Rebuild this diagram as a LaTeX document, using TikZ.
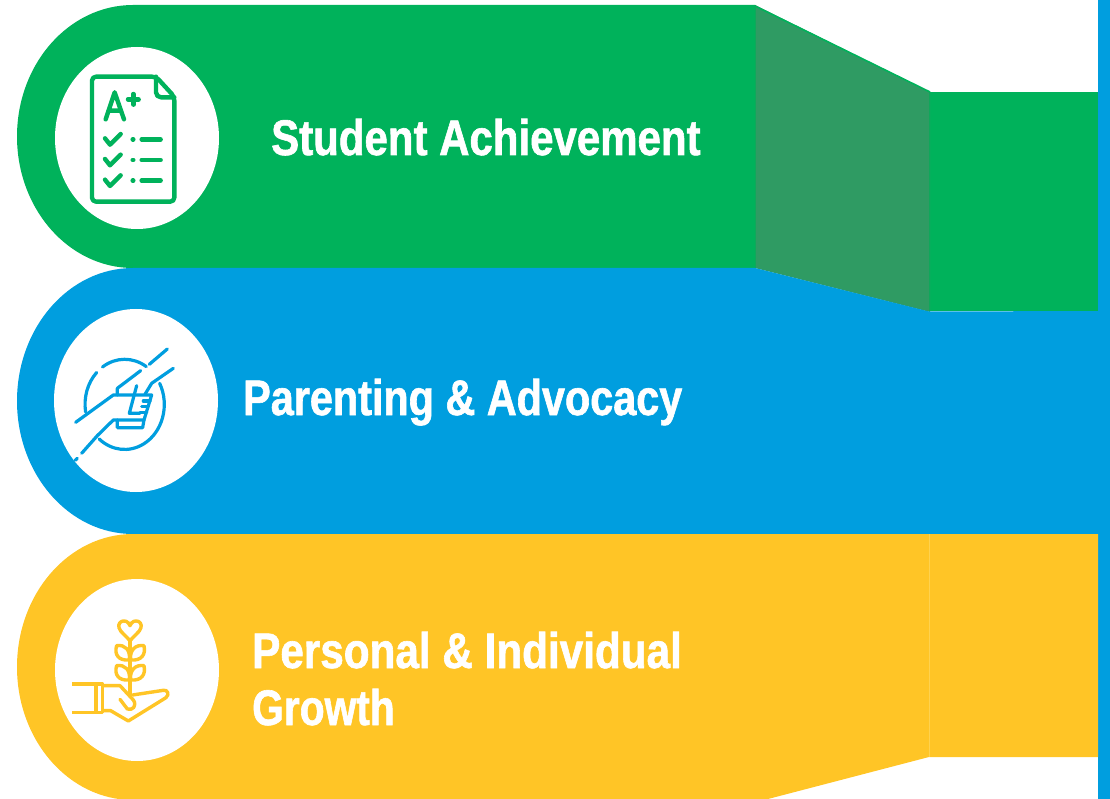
\documentclass[tikz,border=0pt]{standalone}
\usepackage{fontspec}
\usepackage{graphicx}
\newfontfamily\labelfont[FakeStretch=0.84,FakeBold=1.2]{Liberation Sans Bold}
\definecolor{bandgreen}{HTML}{00B25B}
\definecolor{seamgreen}{HTML}{0FA85A}
\definecolor{trapgreen}{HTML}{2F9B63}
\definecolor{bandblue}{HTML}{009EDF}
\definecolor{bandyellow}{HTML}{FFC526}
\definecolor{seamyellow}{HTML}{FFD24F}
\tikzset{
  disc/.style={fill=white},
  bandlabel/.style={anchor=base west,inner sep=0pt,text=white,font=\labelfont\fontsize{50}{50}\selectfont},
  iconA/.style={draw=bandgreen,line width=4.4pt,line cap=round,line join=round},
  iconB/.style={draw=bandblue,line width=3.2pt,line cap=round,line join=round},
  iconC/.style={draw=bandyellow,line width=3.4pt,line cap=round,line join=round},
}
\begin{document}
\begin{tikzpicture}[x=1pt,y=-1pt]
\useasboundingbox (0,0) rectangle (1110,799);
% bands
\fill[bandgreen] (133,5) arc[start angle=90,end angle=270,x radius=116pt,y radius=131.5pt] -- (755,268) -- (755,5) -- cycle;
\fill[bandgreen] (929,92) rectangle (1098,311);
\fill[trapgreen] (755,5) -- (930,92) -- (930,312) -- (755,268) -- cycle;
\draw[bandgreen,line width=1.6pt] (755,6) -- (930,92);
\draw[seamgreen,line width=1pt] (755,5) -- (755,268) (929,92) -- (929,311);
\fill[bandblue] (133,268) arc[start angle=90,end angle=270,x radius=116pt,y radius=133pt] -- (1098,534) -- (1098,311) -- (929,311.5) -- (755,268) -- cycle;
\fill[bandblue] (1098,0) rectangle (1110,799);
\fill[bandyellow] (133,534) arc[start angle=90,end angle=270,x radius=116pt,y radius=133pt] -- (768,799) -- (929,757) -- (1098,757) -- (1098,534) -- cycle;
\draw[seamyellow,line width=0.7pt] (929,534) -- (929,757);
% discs
\fill[disc] (137,138) ellipse[x radius=82pt,y radius=91pt];
\fill[disc] (136,400.5) ellipse[x radius=82pt,y radius=91.5pt];
\fill[disc] (137,670) ellipse[x radius=82pt,y radius=91pt];
% icon A
\begin{scope}[shift={(40,40)},x=0.3333pt,y=-0.3333pt]
\draw[iconA,rounded corners=4pt] (156,110) -- (348,110) -- (403,170) -- (403,485) -- (156,485) -- cycle;
\draw[iconA,rounded corners=5pt] (348,110) -- (348,172) -- (403,172);
\draw[iconA] (197,238) -- (224,157) -- (252,238) (205,212) -- (243,212);
\draw[iconA] (264,178) -- (296,178) (280,162) -- (280,194);
\foreach \d in {0,62,124}{
  \draw[iconA] (195,295+\d) -- (210,314+\d) -- (242,282+\d);
  \draw[iconA] (278,298+\d) -- (280,298+\d);
  \draw[iconA] (305,298+\d) -- (362,298+\d);
}
\end{scope}
% icon B
\begin{scope}[shift={(40,305)},x=0.3333pt,y=-0.3333pt]
\draw[iconB] (187.5,186) arc[start angle=124,end angle=57,x radius=39.67pt,y radius=45pt];
\draw[iconB] (170,202.5) arc[start angle=135,end angle=190,x radius=39.67pt,y radius=45pt];
\draw[iconB] (359,235) arc[start angle=28,end angle=-130,x radius=39.67pt,y radius=45pt];
\fill[white] (205,275) rectangle (325,365);
\draw[iconB] (328,178) -- (382,132);
\draw[iconB] (302,197) -- (232,250) -- (232,270);
\draw[iconB] (107,352) -- (220,270) -- (335,270) -- (312,345) -- (220,345) -- (172,392) -- (125,445);
\draw[iconB] (112,460) -- (106,466);
\draw[iconB] (290,242) -- (268,325) -- (300,325);
\draw[iconB] (400,190) -- (335,235) -- (315,268);
\draw[iconB] (232,345) -- (232,368) -- (308,368) -- (312,345);
\draw[iconB] (300,322) -- (320,322) (305,305) -- (325,305) (310,288) -- (330,288);
\end{scope}
% icon C
\begin{scope}[shift={(40,575)},x=0.3333pt,y=-0.3333pt]
\draw[iconC] (270,197) -- (242,168) .. controls (222,140) and (260,125) .. (270,152) .. controls (280,125) and (318,140) .. (298,168) -- cycle;
\draw[iconC] (270,197) -- (270,360);
\foreach \d in {0,60}{
  \draw[iconC] (268,255+\d) .. controls (235,258+\d) and (222,238+\d) .. (230,212+\d) .. controls (255,208+\d) and (272,225+\d) .. (268,255+\d);
  \draw[iconC] (272,255+\d) .. controls (305,258+\d) and (318,238+\d) .. (312,212+\d) .. controls (287,208+\d) and (268,225+\d) .. (272,255+\d);
}
\draw[iconC,line cap=butt] (97,327) -- (188,327) -- (188,412) -- (97,412);
\draw[iconC,line cap=butt] (168,327) -- (168,412);
\draw[iconC] (188,332) -- (240,332) -- (280,375) .. controls (292,392) and (278,408) .. (262,402) -- (240,373);
\draw[iconC] (190,407) -- (212,407) -- (265,438) -- (378,368) .. controls (390,358) and (382,343) .. (370,346) -- (278,360);
\end{scope}
% labels
\node[bandlabel] (achieve) at (271,155) {Student Achievement};
\node[bandlabel] (parent) at (243,415) {\scalebox{0.985}[1]{Parenting \& Advocacy}};
\node[bandlabel] (personal) at (252,668) {\scalebox{1.006}[1]{Personal \& Individual}};
\node[bandlabel] (growth) at (252,725) {\scalebox{0.97}[1]{Growth}};
\end{tikzpicture}
\end{document}
